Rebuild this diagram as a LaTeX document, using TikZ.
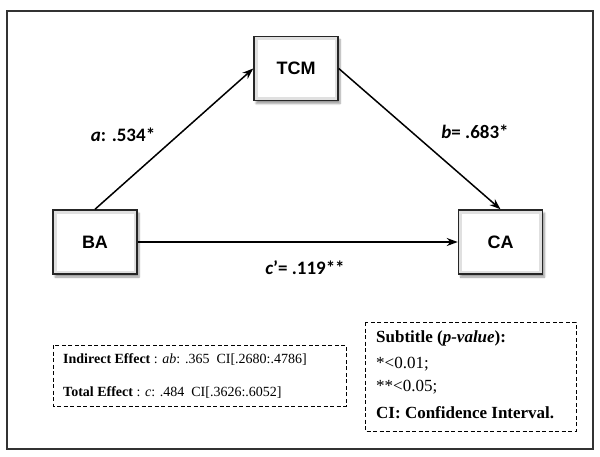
\documentclass[tikz,border=0pt]{standalone}
\usepackage{fontspec}
\setmainfont{Liberation Serif}
\newfontfamily\calibri{Carlito}
\newfontfamily\arial{Liberation Sans}
\usetikzlibrary{arrows.meta,shadows.blur}
\tikzset{
	var/.style={draw=black!85, line width=1.5pt, fill=white, minimum width=84pt, minimum height=64pt,
		font=\arial\bfseries\fontsize{18}{18}\selectfont, blur shadow={shadow blur steps=6, shadow xshift=2pt, shadow yshift=-3pt},
		path picture={\draw[black!12, line width=7pt] (path picture bounding box.south west) rectangle (path picture bounding box.north east);}},
	path/.style={line width=1.5pt, -{Stealth[length=11pt, width=8pt]}},
	coef/.style={font=\calibri\bfseries\fontsize{19}{19}\selectfont},
	note/.style={anchor=west, inner sep=0pt, font=\fontsize{14}{14}\selectfont},
	legend/.style={note, font=\fontsize{17}{17}\selectfont},
	notebox/.style={line width=1pt, dash pattern=on 4pt off 2.5pt}
}
\newcommand{\eff}[1]{\textbf{#1}}
\begin{document}
\begin{tikzpicture}[x=1pt, y=-1pt]
	\useasboundingbox (0,0) rectangle (600,456);
	\draw[black!80, line width=1.8pt] (7,11) rectangle (593,449);

	\node[var] (tcm) at (296,68.5) {TCM};
	\node[var] (ba) at (95,242) {BA};
	\node[var] (ca) at (500.5,242) {CA};

	\draw[path] (ba.north) -- (tcm.west);
	\draw[path] (tcm.east) -- (ca.north);
	\draw[path] (ba.east) -- (ca.west);

	\node[coef] (a) at (123,135) {\itshape a\upshape: .534*};
	\node[coef] (b) at (475,132) {\itshape b\upshape= .683*};
	\node[coef] (c) at (305,268) {\itshape c\upshape’= .119**};

	\draw[notebox] (53,345) rectangle (346,406);
	\node[note] (ind) at (63,360) {\eff{Indirect Effect} : \textit{ab}: .365\ \ CI[.2680:.4786]};
	\node[note] (tot) at (63,392) {\eff{Total Effect} : \textit{c}: .484\ \ CI[.3626:.6052]};

	\draw[notebox] (365,322) rectangle (576,431);
	\node[legend] (sub) at (376,338) {\eff{Subtitle (\textit{p-value}):}};
	\node[legend] (p1) at (376,364) {*<0.01;};
	\node[legend] (p2) at (376,387) {**<0.05;};
	\node[legend] (ci) at (376,413) {\eff{CI: Confidence Interval.}};
\end{tikzpicture}
\end{document}
